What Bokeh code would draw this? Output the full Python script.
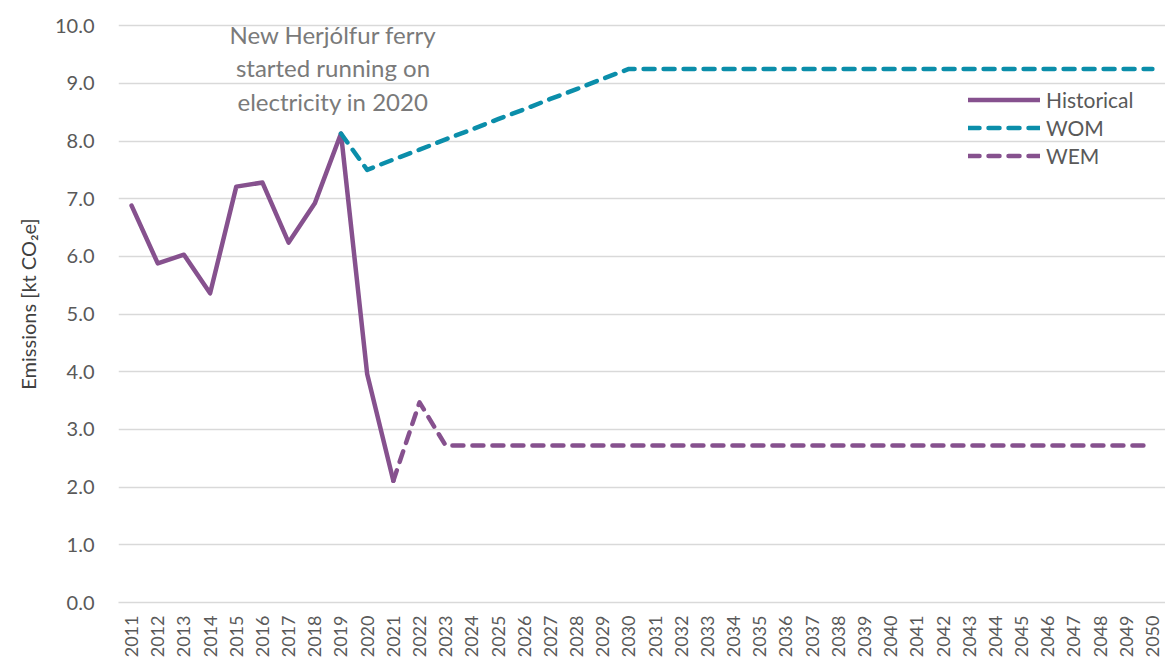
from bokeh.plotting import figure
from bokeh.models import Range1d, Legend, LegendItem, FixedTicker, NumeralTickFormatter
from bokeh.core.properties import value
from bokeh.embed import file_html
from bokeh.resources import INLINE

years = [str(y) for y in range(2011, 2051)]

hist_years = years[0:11]  # 2011-2021
historical = [6.88, 5.88, 6.03, 5.36, 7.21, 7.28, 6.24, 6.92, 8.13, 3.96, 2.11]

wom_years = years[8:]  # 2019-2050
wom = [8.13, 7.50, 7.68, 7.85, 8.03, 8.20, 8.38, 8.55, 8.73, 8.90, 9.08, 9.25,
       9.25, 9.25, 9.25, 9.25, 9.25, 9.25, 9.25, 9.25, 9.25, 9.25,
       9.25, 9.25, 9.25, 9.25, 9.25, 9.25, 9.25, 9.25, 9.25, 9.25]

wem_years = years[10:]  # 2021-2050
wem = [2.11, 3.47, 2.72, 2.72, 2.72, 2.72, 2.72, 2.72, 2.72, 2.72,
       2.72, 2.72, 2.72, 2.72, 2.72, 2.72, 2.72, 2.72, 2.72, 2.72,
       2.72, 2.72, 2.72, 2.72, 2.72, 2.72, 2.72, 2.72, 2.72, 2.72]

y_ticks = [0, 1, 2, 3, 4, 5, 6, 7, 8, 9, 10]
annotation = "New Herjólfur ferry\nstarted running on\nelectricity in 2020"

PURPLE = "#86518E"
TEAL = "#0B8EAA"
GREY = "#595959"
GRID = "#d9d9d9"
FONT = "Lato"

p = figure(x_range=years, y_range=Range1d(0, 10.35), width=1165, height=660,
           output_backend="svg", toolbar_location=None,
           min_border_left=118, min_border_right=0, min_border_top=5,
           min_border_bottom=58)
p.outline_line_color = None
p.background_fill_color = "white"

p.xgrid.grid_line_color = None
p.ygrid.grid_line_color = GRID
p.ygrid.grid_line_width = 1.5

p.yaxis.ticker = FixedTicker(ticks=y_ticks)
p.yaxis.formatter = NumeralTickFormatter(format="0.0")
p.yaxis.axis_line_color = None
p.yaxis.major_tick_line_color = None
p.yaxis.minor_tick_line_color = None
p.yaxis.major_label_text_font = FONT
p.yaxis.major_label_text_font_size = "20px"
p.yaxis.major_label_text_color = GREY
p.yaxis.major_label_standoff = 18
p.yaxis.axis_label = "Emissions [kt CO₂e]"
p.yaxis.axis_label_text_font = FONT
p.yaxis.axis_label_text_font_style = "normal"
p.yaxis.axis_label_text_font_size = "20px"
p.yaxis.axis_label_text_color = "#404040"
p.yaxis.axis_label_standoff = 12

p.xaxis.axis_line_color = GRID
p.xaxis.axis_line_width = 1.5
p.xaxis.major_tick_line_color = None
p.xaxis.minor_tick_line_color = None
p.xaxis.major_label_orientation = 3.14159 / 2
p.xaxis.major_label_text_font = FONT
p.xaxis.major_label_text_font_size = "18px"
p.xaxis.major_label_text_color = GREY
p.xaxis.major_label_standoff = 7

r_hist = p.line(hist_years, historical, line_color=PURPLE, line_width=4.5,
                line_join="round", line_cap="round")
r_wom = p.line(wom_years, wom, line_color=TEAL, line_width=4.5,
               line_dash="11 9", line_join="round", line_cap="round")
r_wem = p.line(wem_years, wem, line_color=PURPLE, line_width=4.5,
               line_dash="11 9", line_join="round", line_cap="round")

p.text(x=["2019"], y=[9.27], text=[annotation], x_offset=-8,
       text_align="center", text_baseline="middle",
       text_font=value(FONT), text_font_size="24px", text_color="#7a7a7a",
       text_line_height=1.15)

legend = Legend(items=[LegendItem(label="Historical", renderers=[r_hist]),
                       LegendItem(label="WOM", renderers=[r_wom]),
                       LegendItem(label="WEM", renderers=[r_wem])],
                location=(850, 434))
legend.border_line_color = None
legend.background_fill_alpha = 0
legend.padding = 0
legend.margin = 0
legend.spacing = 3
legend.glyph_width = 72
legend.glyph_height = 25
legend.label_height = 25
legend.label_standoff = 6
legend.label_text_font = FONT
legend.label_text_font_size = "21px"
legend.label_text_color = GREY
p.add_layout(legend)

open("out.html", "w").write(file_html(p, INLINE))
